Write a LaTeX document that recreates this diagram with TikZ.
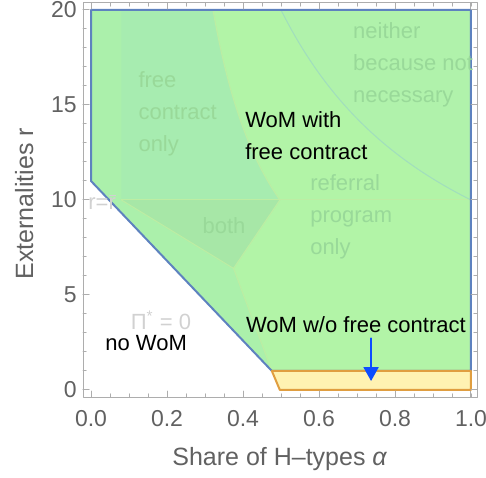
\documentclass[tikz,border=0pt]{standalone}
\usepackage{fontspec}
\setmainfont{Liberation Sans}
\usepackage{xcolor}
\usepackage{tikz}
\usetikzlibrary{calc}
\usetikzlibrary{arrows.meta}
\definecolor{grnbase}{rgb}{0.70,0.955,0.655}
\definecolor{grnleft}{rgb}{0.67,0.94,0.67}
\definecolor{grnfree}{rgb}{0.655,0.925,0.69}
\definecolor{grnboth}{rgb}{0.655,0.905,0.655}
\definecolor{grnnone}{rgb}{0.69,0.95,0.67}
\definecolor{linefree}{rgb}{0.74,0.93,0.64}
\definecolor{linenone}{rgb}{0.63,0.87,0.74}
\definecolor{womblue}{rgb}{0.37,0.51,0.75}
\definecolor{arrblue}{rgb}{0.05,0.30,1.}
\definecolor{yelfill}{rgb}{1.,0.95,0.70}
\definecolor{orgedge}{rgb}{0.88,0.62,0.25}
\definecolor{fainttxt}{rgb}{0.60,0.85,0.60}
\definecolor{greytxt}{rgb}{0.82,0.82,0.82}
\definecolor{axisgrey}{rgb}{0.38,0.38,0.38}
\definecolor{framegrey}{rgb}{0.68,0.68,0.68}
\tikzstyle{every node}=[font=\fontsize{11}{16}\selectfont]

\begin{document}
\begin{tikzpicture}[line cap=round,line join=round,x=190pt,y=9.5pt,
    faint/.style={color=fainttxt,align=left,inner sep=0pt,anchor=west},
    blk/.style={color=black,align=left,inner sep=0pt},
    ticklab/.style={color=axisgrey,font=\fontsize{11.5}{14}\selectfont,inner sep=0pt},
    axlab/.style={color=axisgrey,font=\fontsize{12.5}{15}\selectfont,inner sep=0pt}]
            \clip(-0.2395,-4.632) rectangle (1.0395,20.526);
            % regions
            \fill [color=grnbase] (0.,20.) -- (0.,11.) -- (0.476,1.) -- (1.,1.) -- (1.,20.) -- cycle;
            \fill [color=grnleft] (0.,20.) -- (0.321,20.) -- plot[domain=20:10,samples=30,variable=\t] ({0.145+3.52/\t},\t) -- (0.375,6.4) -- (0.476,1.) -- (0.,11.) -- cycle;
            \fill [color=grnfree] (0.08,20.) -- (0.321,20.) -- plot[domain=20:10,samples=30,variable=\t] ({0.145+3.52/\t},\t) -- (0.08,10.) -- cycle;
            \fill [color=grnboth] (0.08,10.) -- (0.497,10.) -- (0.375,6.4) -- cycle;
            \fill [color=grnnone] (0.5,20.) -- plot[domain=0.5:1,samples=40,variable=\t] (\t,{10/\t}) -- (1.,20.) -- cycle;
            \draw [line width=0.5pt,color=linefree] plot[domain=20:10,samples=30,variable=\t] ({0.145+3.52/\t},\t);
            \draw [line width=0.5pt,color=linefree] (0.08,10.) -- (1.,10.);
            \draw [line width=0.5pt,color=linefree] (0.08,10.) -- (0.375,6.4) -- (0.497,10.);
            \draw [line width=0.5pt,color=linefree] (0.375,6.4) -- (0.476,1.);
            \draw [line width=0.5pt,color=linenone] plot[domain=0.5:1,samples=40,variable=\t] (\t,{10/\t});
            \draw [line width=1pt,color=womblue] (0.,20.) -- (0.,11.) -- (0.476,1.) -- (1.,1.) -- (1.,20.) -- cycle;
            \draw [line width=1pt,color=orgedge,fill=yelfill] (0.476,1.) -- (1.,1.) -- (1.,0.) -- (0.497,0.) -- cycle;
            % frame and ticks
            \draw [line width=0.5pt,color=framegrey] (-0.021,-0.37) rectangle (1.016,20.37);
            \foreach \i in {0,...,20} {
                \draw [line width=0.5pt,color=framegrey] (\i*0.05,-0.37) -- ++(0,1.6pt);
                \draw [line width=0.5pt,color=framegrey] (\i*0.05,20.37) -- ++(0,-1.6pt);
                \draw [line width=0.5pt,color=framegrey] (-0.021,\i) -- ++(1.6pt,0);
                \draw [line width=0.5pt,color=framegrey] (1.016,\i) -- ++(-1.6pt,0);
            }
            \foreach \x [count=\i] in {0.0,0.2,0.4,0.6,0.8,1.0} {
                \draw [line width=0.5pt,color=framegrey] (\x,-0.37) -- ++(0,3pt);
                \draw [line width=0.5pt,color=framegrey] (\x,20.37) -- ++(0,-3pt);
                \node [ticklab,anchor=north,yshift=-6.5pt] (xt\i) at (\x,-0.37) {\x};
            }
            \foreach \y [count=\i] in {0,5,10,15,20} {
                \draw [line width=0.5pt,color=framegrey] (-0.021,\y) -- ++(3pt,0);
                \draw [line width=0.5pt,color=framegrey] (1.016,\y) -- ++(-3pt,0);
                \node [ticklab,anchor=east,xshift=-3pt] (yt\i) at (-0.021,\y) {\y};
            }
            \node [axlab,anchor=base] (xlab) at (0.497,-4.0) {Share of H–types \textit{α}};
            \node [axlab,anchor=base,rotate=90] (ylab) at (-0.1526,9.8) {Externalities r};
            % labels
            \node [faint] (freeonly) at (0.124,14.55) {free\\contract\\only};
            \node [faint] (neither) at (0.689,17.1) {neither\\because not\\necessary};
            \node [faint] (referral) at (0.576,9.13) {referral\\program\\only};
            \node [faint,anchor=center] (both) at (0.35,8.63) {both};
            \node [blk,anchor=west] (wwith) at (0.405,13.37) {WoM with\\free contract};
            \node [blk] (nowom) at (0.145,2.47) {no WoM};
            \node [color=greytxt,inner sep=0pt] (pizero) at (0.184,3.68) {Π\textsuperscript{*} = 0};
            \node [blk] (wwo) at (0.697,3.42) {WoM w/o free contract};
            \begin{scriptsize}
            \node [color=greytxt,anchor=west,inner sep=0pt] (rbar) at (-0.008,9.9) {r=$\overline{\mbox{r}}$};
            \end{scriptsize}
            \coordinate (arrtip) at (0.737,0.47);
            \draw [-{Triangle[width=7.5pt,length=7pt]},line width=1pt,color=arrblue] ($(wwo.south -| arrtip)+(0,-2.5pt)$) -- (arrtip);
\end{tikzpicture}
\end{document}
